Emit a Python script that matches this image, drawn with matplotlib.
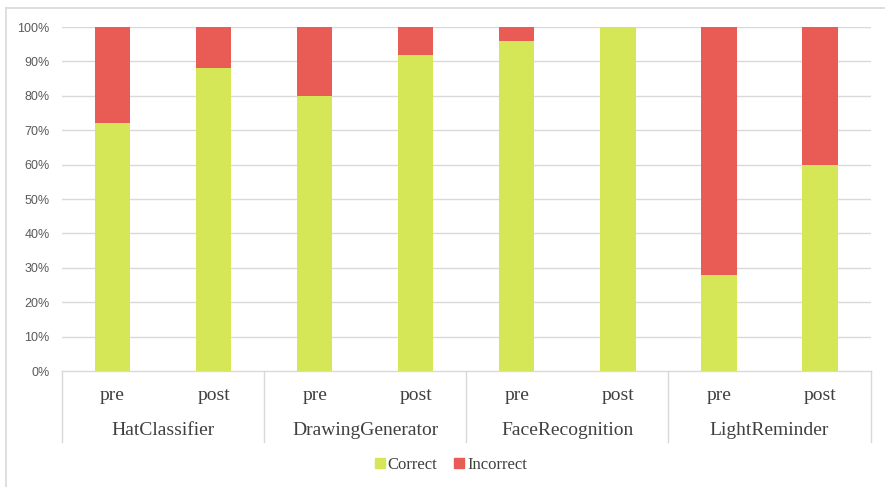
import numpy as np
import matplotlib.pyplot as plt
from matplotlib.patches import Patch
from matplotlib.lines import Line2D

groups = ['HatClassifier', 'DrawingGenerator', 'FaceRecognition', 'LightReminder']
phases = ['pre', 'post']
correct = [72, 88, 80, 92, 96, 100, 28, 60]
incorrect = [100 - c for c in correct]
yticks = [0, 10, 20, 30, 40, 50, 60, 70, 80, 90, 100]

green = '#d5e756'
red = '#e95b55'
gridc = '#d9d9d9'
serif = 'Liberation Serif'
sans = 'Liberation Sans'

W, H = 885, 487
fig = plt.figure(figsize=(W/100, H/100), dpi=100)
ax = fig.add_axes([62/W, (H-371)/H, (870.5-62)/W, 344/H])

x = np.arange(len(correct))
ax.bar(x, correct, width=0.35, color=green, zorder=3)
ax.bar(x, incorrect, bottom=correct, width=0.35, color=red, zorder=3)

ax.set_xlim(-0.5, len(correct)-0.5)
ax.set_ylim(0, 100)
ax.set_yticks(yticks)
ax.set_yticklabels([f'{t}%' for t in yticks], fontsize=9, family=sans, color='#595959')
ax.tick_params(axis='y', length=0, pad=9)
ax.set_xticks([])
for t in yticks[1:]:
    ax.axhline(t, color=gridc, lw=1, zorder=1)
for s in ['top', 'right', 'left']:
    ax.spines[s].set_visible(False)
ax.spines['bottom'].set_color(gridc)
ax.spines['bottom'].set_linewidth(1)

# two-level category axis
tr = ax.get_xaxis_transform()
for i, xi in enumerate(x):
    ax.text(xi, -0.07, phases[i % 2], transform=tr, ha='center', va='center',
            fontsize=14, family=serif, color='#404040')
for g, name in enumerate(groups):
    ax.text(2*g + 0.5, -0.172, name, transform=tr, ha='center', va='center',
            fontsize=14, family=serif, color='#404040')
for b in np.arange(-0.5, len(correct), 2):
    ax.add_line(Line2D([b, b], [0, -0.206], transform=tr, color=gridc, lw=1, clip_on=False))

handles = [Patch(color=green, label='Correct'), Patch(color=red, label='Incorrect')]
fig.legend(handles=handles, loc='center', bbox_to_anchor=(451/W, (H-465)/H), ncol=2,
           frameon=False, prop={'family': serif, 'size': 12}, handlelength=0.6,
           handleheight=0.6, handletextpad=0.2, columnspacing=1.0, labelcolor='#404040')

# outer chart frame
fig.add_artist(Line2D([6/W, 1], [(H-8)/H]*2, color=gridc, lw=1.2))
fig.add_artist(Line2D([6/W]*2, [0, (H-8)/H], color=gridc, lw=1.2))

plt.savefig('out.png', dpi=100)
